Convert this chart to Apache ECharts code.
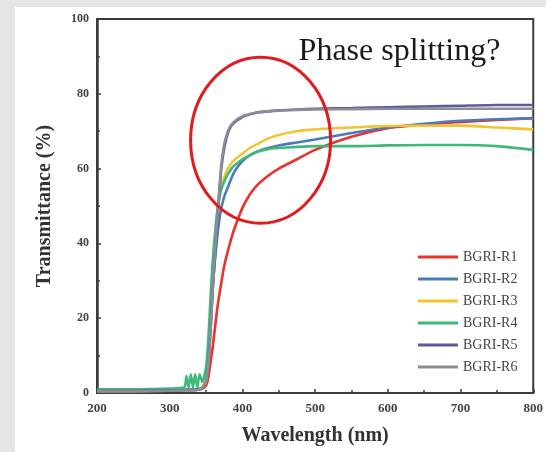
<!DOCTYPE html>
<html>
<head>
<meta charset="utf-8">
<script src="https://cdn.jsdelivr.net/npm/echarts@6/dist/echarts.min.js"></script>
<style>
  html, body { margin: 0; padding: 0; width: 546px; height: 452px; background: #e6e6e6; overflow: hidden; }
  #chart { position: absolute; left: 15px; top: 7px; width: 531px; height: 445px; background: #ffffff; }
</style>
</head>
<body>
<div id="chart"></div>
<script>
// Wavelength grid (nm), shared by every sample
const wavelength = [200, 250, 300, 320, 323, 326, 329, 332, 335, 338, 341, 345, 350, 353, 356, 359, 362, 365, 368, 371, 375, 380, 385, 390, 400, 410, 420, 435, 450, 475, 500, 550, 600, 650, 700, 750, 800];

// Transmittance (%) for each sample
const bgriR1 = [0.6, 0.6, 0.7, 0.8, 0.8, 0.8, 0.8, 0.9, 0.9, 1.0, 1.0, 1.2, 2, 4, 8, 12, 17, 22, 26, 29.5, 34, 38, 41.5, 44.5, 49.5, 53, 55.5, 58, 60, 62.5, 65, 68.5, 70.8, 71.8, 72.5, 73, 73.5];
const bgriR2 = [0.6, 0.6, 0.7, 0.8, 1, 1, 1, 1, 1, 1, 1.2, 1.5, 4, 9, 19, 28, 35, 41, 46, 49.5, 52.5, 55, 57.5, 59.5, 62, 63.5, 64.5, 65.5, 66.2, 67, 67.8, 69.5, 71, 72, 72.8, 73.2, 73.5];
const bgriR3 = [0.5, 0.5, 0.6, 0.7, 0.8, 0.8, 0.8, 0.8, 0.8, 0.9, 1, 1.5, 4, 10, 20, 31, 40, 47, 52, 55, 57.8, 60, 61.5, 62.5, 64, 65.5, 66.5, 68, 69, 70, 70.5, 71, 71.4, 71.5, 71.5, 71, 70.5];
const bgriR4 = [1, 1, 1.2, 1.5, 4.5, 1.5, 5, 1.5, 5, 1.5, 5, 3, 7, 14, 25, 35, 42, 48, 52, 54.5, 56.5, 58.5, 60, 61, 62.5, 63.6, 64.5, 65.2, 65.5, 65.8, 66, 66, 66.2, 66.3, 66.3, 66, 65];
const bgriR5 = [0.6, 0.6, 0.7, 0.8, 0.8, 0.8, 0.8, 0.8, 0.8, 0.9, 1, 1.3, 3, 7, 16, 27, 36, 45, 53, 60, 65.5, 69.5, 71.5, 72.5, 73.8, 74.5, 75, 75.3, 75.6, 75.8, 76, 76.2, 76.4, 76.6, 76.8, 77, 77];
const bgriR6 = [0.5, 0.5, 0.6, 0.7, 0.7, 0.7, 0.7, 0.7, 0.7, 0.8, 1, 1.3, 3, 7, 16, 27, 37, 46, 54, 61, 66.5, 70, 71.8, 72.8, 74, 74.6, 75, 75.3, 75.5, 75.7, 75.8, 75.9, 76, 76, 76, 76, 76];

const seriesNames = ['BGRI-R1', 'BGRI-R2', 'BGRI-R3', 'BGRI-R4', 'BGRI-R5', 'BGRI-R6'];
const seriesValues = [bgriR1, bgriR2, bgriR3, bgriR4, bgriR5, bgriR6];
const seriesColors = ['#e8342c', '#4b7bb8', '#f4c330', '#3fb97a', '#5a5c9c', '#8c8c98'];

// Annotation anchors in data space (wavelength, transmittance)
const circleCenter = [425, 67.6];
const noteAnchor = [616, 91.4];
const noteText = 'Phase splitting?';

const serif = 'Liberation Serif';
const frameColor = '#3c3c3c';

const chart = echarts.init(document.getElementById('chart'));

const series = seriesNames.map((name, i) => ({
  name: name,
  type: 'line',
  data: wavelength.map((w, k) => [w, seriesValues[i][k]]),
  smooth: 0.2,
  symbol: 'none',
  lineStyle: { width: 2.6, color: seriesColors[i] },
  itemStyle: { color: seriesColors[i] },
  z: 2 + i
}));

chart.setOption({
  animation: false,
  backgroundColor: '#ffffff',
  grid: { left: 82, right: 9, top: 12, bottom: 59, show: true, borderColor: frameColor, borderWidth: 2 },
  legend: {
    orient: 'vertical',
    left: 398,
    top: 238,
    icon: 'rect',
    itemWidth: 40,
    itemHeight: 3,
    itemGap: 8,
    data: seriesNames,
    textStyle: { fontFamily: serif, fontSize: 14, lineHeight: 14, color: '#444' }
  },
  xAxis: {
    type: 'value',
    min: 200, max: 800, interval: 100,
    name: 'Wavelength (nm)',
    nameLocation: 'middle',
    nameGap: 33,
    nameTextStyle: { fontFamily: serif, fontSize: 20, fontWeight: 'bold', color: '#333' },
    axisLine: { show: true, lineStyle: { color: frameColor, width: 2 } },
    axisTick: { show: true, inside: true, length: 4, lineStyle: { color: frameColor, width: 1.5 } },
    minorTick: { show: true, splitNumber: 2, length: 3, lineStyle: { color: frameColor, width: 1.5 } },
    axisLabel: { fontFamily: serif, fontSize: 13, fontWeight: 'bold', color: '#444', margin: 9 },
    splitLine: { show: false }
  },
  yAxis: {
    type: 'value',
    min: 0, max: 100, interval: 20,
    name: 'Transmittance (%)',
    nameLocation: 'middle',
    nameGap: 42,
    nameTextStyle: { fontFamily: serif, fontSize: 20, fontWeight: 'bold', color: '#333' },
    axisLine: { show: true, lineStyle: { color: frameColor, width: 2.5 } },
    axisTick: { show: true, inside: true, length: 4, lineStyle: { color: frameColor, width: 1.5 } },
    minorTick: { show: true, splitNumber: 2, length: 3, lineStyle: { color: frameColor, width: 1.5 } },
    axisLabel: { fontFamily: serif, fontSize: 12, fontWeight: 'bold', color: '#444', margin: 8 },
    splitLine: { show: false }
  },
  series: series
});

// Place the highlight ring and the note using the chart's own scales
const c = chart.convertToPixel({ gridIndex: 0 }, circleCenter);
const n = chart.convertToPixel({ gridIndex: 0 }, noteAnchor);
chart.setOption({
  graphic: [
    {
      type: 'ellipse',
      z: 100,
      shape: { cx: c[0], cy: c[1], rx: 70, ry: 83 },
      style: { fill: 'none', stroke: '#e3191c', lineWidth: 3 }
    },
    {
      type: 'text',
      z: 100,
      x: n[0],
      y: n[1],
      style: {
        text: noteText,
        font: '32px "Liberation Serif"',
        fill: '#1a1a1a',
        align: 'center',
        verticalAlign: 'middle'
      }
    }
  ]
});
</script>
</body>
</html>
